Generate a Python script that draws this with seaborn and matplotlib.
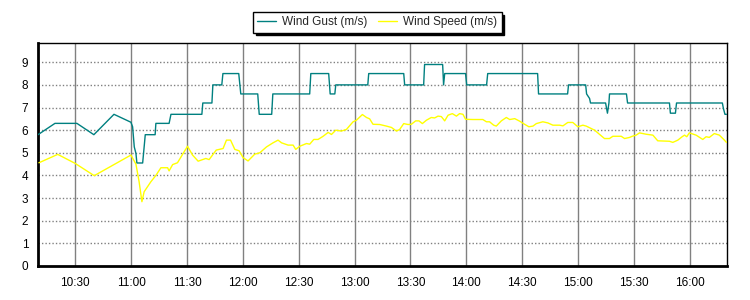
import numpy as np
import pandas as pd
import matplotlib
matplotlib.use("Agg")
import matplotlib.pyplot as plt
from matplotlib.ticker import MultipleLocator, FixedLocator
from matplotlib.lines import Line2D
import seaborn as sns

# minutes after 10:00
gust_t = [10.0, 19.1, 30.9, 40.0, 50.8, 59.9, 60.8, 61.7, 62.6, 63.1, 66.2, 67.0, 67.6,
          72.9, 73.3, 80.4, 81.4, 98.0, 98.5, 103.4, 103.9, 108.7, 109.3, 117.8, 118.9,
          128.0, 128.8, 135.5, 136.1, 155.9, 156.5, 166.1, 166.9, 169.4, 169.9, 187.1,
          187.6, 206.4, 206.9, 217.1, 217.6, 227.3, 227.8, 228.4, 239.6, 240.2, 250.9,
          251.5, 278.3, 278.8, 294.4, 294.9, 304.1, 304.6, 306.2, 306.7, 314.8, 315.8,
          316.6, 316.9, 326.0, 326.6, 349.1, 349.6, 352.3, 352.9, 377.5, 378.1, 378.9, 379.7]
gust_v = [5.8, 6.3, 6.3, 5.8, 6.7, 6.35, 6.15, 5.26, 4.97, 4.55, 4.55, 5.26, 5.8,
          5.8, 6.3, 6.3, 6.7, 6.7, 7.2, 7.2, 8.0, 8.0, 8.5, 8.5, 7.6,
          7.6, 6.7, 6.7, 7.6, 7.6, 8.5, 8.5, 7.6, 7.6, 8.0, 8.0,
          8.5, 8.5, 8.0, 8.0, 8.9, 8.9, 8.0, 8.5, 8.5, 8.0, 8.0,
          8.5, 8.5, 7.6, 7.6, 8.0, 8.0, 7.6, 7.4, 7.2, 7.2, 6.75,
          7.2, 7.6, 7.6, 7.2, 7.2, 6.75, 6.75, 7.2, 7.2, 6.95, 6.7, 6.7]

speed_t = [10.5, 20.6, 30.0, 40.2, 59.9, 62.6, 64.3, 65.8, 67.0, 70.6, 73.3, 76.0, 79.6,
           80.4, 82.3, 84.9, 90.3, 93.0, 96.0, 100.1, 101.9, 105.7, 109.4, 111.2, 113.4,
           115.7, 118.0, 120.1, 122.8, 126.4, 129.1, 132.7, 136.2, 138.9, 140.8, 144.3,
           147.0, 148.4, 150.6, 154.2, 155.9, 158.1, 160.4, 163.1, 165.8, 167.6, 169.9,
           172.9, 175.6, 179.2, 181.0, 184.2, 186.4, 188.1, 189.9, 193.5, 197.1, 199.8,
           202.5, 204.2, 206.4, 208.7, 210.5, 212.8, 214.6, 216.4, 218.6, 221.2, 223.0,
           224.8, 226.6, 228.4, 230.2, 232.5, 234.7, 236.4, 238.2, 239.6, 243.6, 248.9,
           250.8, 252.5, 254.7, 256.1, 258.8, 261.5, 263.3, 266.0, 268.6, 271.3, 273.6,
           275.8, 277.6, 281.1, 283.8, 286.5, 290.1, 291.9, 294.5, 297.2, 299.9, 302.6,
           304.4, 307.1, 308.9, 311.5, 314.2, 316.9, 318.7, 323.2, 325.0, 327.7, 329.1,
           331.2, 333.0, 336.6, 340.2, 342.8, 349.1, 350.9, 353.6, 355.9, 357.2, 358.4,
           359.8, 363.4, 367.0, 368.8, 370.5, 373.2, 375.9, 378.6, 379.7]
speed_v = [4.56, 4.93, 4.53, 3.99, 4.9, 4.5, 3.72, 2.84, 3.28, 3.72, 4.0, 4.34, 4.34,
           4.2, 4.48, 4.56, 5.29, 4.9, 4.63, 4.75, 4.7, 5.12, 5.19, 5.56, 5.56,
           5.15, 5.09, 4.79, 4.64, 4.94, 5.0, 5.26, 5.44, 5.56, 5.44, 5.34,
           5.34, 5.15, 5.29, 5.41, 5.38, 5.59, 5.59, 5.73, 5.9, 5.81, 6.0,
           5.96, 6.03, 6.37, 6.44, 6.69, 6.56, 6.5, 6.26, 6.25, 6.18, 6.12,
           5.96, 6.03, 6.29, 6.25, 6.26, 6.41, 6.41, 6.29, 6.44, 6.56, 6.54,
           6.62, 6.6, 6.41, 6.66, 6.73, 6.62, 6.73, 6.7, 6.48, 6.47, 6.47,
           6.37, 6.37, 6.22, 6.18, 6.41, 6.56, 6.47, 6.51, 6.4, 6.26, 6.15,
           6.18, 6.29, 6.37, 6.32, 6.22, 6.22, 6.19, 6.34, 6.34, 6.15, 6.22,
           6.18, 6.07, 6.0, 5.82, 5.63, 5.63, 5.73, 5.73, 5.63, 5.68, 5.73,
           5.78, 5.88, 5.82, 5.78, 5.53, 5.51, 5.46, 5.56, 5.71, 5.78, 5.71,
           5.88, 5.78, 5.59, 5.71, 5.68, 5.85, 5.78, 5.56, 5.46]

tick_minutes = [30, 60, 90, 120, 150, 180, 210, 240, 270, 300, 330, 360]
tick_labels = ["10:30", "11:00", "11:30", "12:00", "12:30", "13:00", "13:30",
               "14:00", "14:30", "15:00", "15:30", "16:00"]
series_names = ["Wind Gust (m/s)", "Wind Speed (m/s)"]

df = pd.concat([
    pd.DataFrame({"t": gust_t, "v": gust_v, "series": series_names[0]}),
    pd.DataFrame({"t": speed_t, "v": speed_v, "series": series_names[1]}),
], ignore_index=True)

sns.set_style("white")
plt.rcParams["font.family"] = ["Liberation Sans", "DejaVu Sans"]

fig = plt.figure(figsize=(7.5, 3.0), dpi=100)
ax = fig.add_axes([38 / 750, 34 / 300, (727 - 38) / 750, (266 - 43) / 300])

sns.lineplot(data=df, x="t", y="v", hue="series", sort=False, estimator=None,
             palette={series_names[0]: "#008080", series_names[1]: "#FFFF00"},
             linewidth=1.0, ax=ax, legend=False, zorder=3)

ax.set_xlim(10, 380)
ax.set_ylim(0, 9.85)
ax.xaxis.set_major_locator(FixedLocator(tick_minutes))
ax.set_xticklabels(tick_labels)
ax.xaxis.set_minor_locator(MultipleLocator(7.5))
ax.yaxis.set_major_locator(MultipleLocator(1))
ax.yaxis.set_minor_locator(MultipleLocator(0.2))
ax.set_xlabel("")
ax.set_ylabel("")

ax.grid(False)
for m in tick_minutes:
    ax.axvline(m, color="#808080", lw=1.0, zorder=1)
for k in range(1, 10):
    ax.axhline(k, color="#808080", lw=1.0, ls=(0, (1, 1.5)), zorder=1)

ax.tick_params(axis="both", which="major", direction="out", length=4, width=1,
               color="black", labelsize=8.5, labelcolor="black", pad=3)
ax.tick_params(axis="both", which="minor", direction="out", length=3, width=0.8,
               color="black")
ax.tick_params(axis="x", which="major", pad=4)

for side in ["top", "right"]:
    ax.spines[side].set_visible(True)
    ax.spines[side].set_color("black")
    ax.spines[side].set_linewidth(1.0)
for side in ["left", "bottom"]:
    ax.spines[side].set_color("black")
    ax.spines[side].set_linewidth(2.0)

handles = [Line2D([0], [0], color="#008080", lw=1.0),
           Line2D([0], [0], color="#FFFF00", lw=1.0)]
leg = fig.legend(handles, series_names, loc="center", bbox_to_anchor=(0.503, 0.925),
                 ncol=2, frameon=True, fancybox=False, shadow={"color": "black", "alpha": 1},
                 fontsize=8.5, handlelength=1.6, handletextpad=0.5, columnspacing=0.95,
                 borderpad=0.35, borderaxespad=0)
leg.get_frame().set_edgecolor("black")
leg.get_frame().set_linewidth(1.0)
leg.get_frame().set_alpha(1)

fig.savefig("out.png", dpi=100)
